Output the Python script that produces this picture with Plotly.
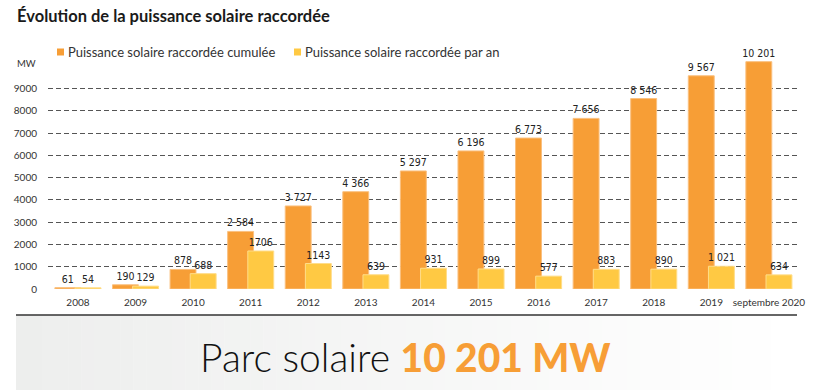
import plotly.graph_objects as go

# ---- data ----
categories = ["2008", "2009", "2010", "2011", "2012", "2013", "2014", "2015",
              "2016", "2017", "2018", "2019", "septembre 2020"]
cumulee = [61, 190, 878, 2584, 3727, 4366, 5297, 6196, 6773, 7656, 8546, 9567, 10201]
par_an = [54, 129, 688, 1706, 1143, 639, 931, 899, 577, 883, 890, 1021, 634]
cumulee_labels = ["61", "190", "878", "2 584", "3 727", "4 366", "5 297", "6 196",
                  "6 773", "7 656", "8 546", "9 567", "10 201"]
par_an_labels = ["54", "129", "688", "1706", "1143", "639", "931", "899", "577",
                 "883", "890", "1 021", "634"]
y_ticks = [0, 1000, 2000, 3000, 4000, 5000, 6000, 7000, 8000, 9000]
series_names = ["Puissance solaire raccordée cumulée", "Puissance solaire raccordée par an"]

ORANGE = "#F79E36"
YELLOW = "#FFC943"
W, H = 825, 390
L, R, T, B = 48, 800, 55, 289


def px(x):
    return (x - L) / (R - L)


def py(y):
    return (B - y) / (B - T)


label_font = dict(family="DejaVu Sans Condensed, Liberation Sans Narrow, sans-serif",
                  size=10.5, color="#222")

fig = go.Figure()
fig.add_trace(go.Bar(
    x=categories, y=cumulee, name=series_names[0], text=cumulee_labels,
    textposition="outside", textfont=label_font, cliponaxis=False, constraintext="none",
    marker=dict(color=ORANGE, line=dict(color="#FAC07F", width=1)),
    offset=-0.40, width=0.45, showlegend=False, hoverinfo="x+y"))
fig.add_trace(go.Bar(
    x=categories, y=par_an, name=series_names[1], text=par_an_labels,
    textposition="outside", textfont=label_font, cliponaxis=False, constraintext="none",
    marker=dict(color=YELLOW, line=dict(color="#FFDD8A", width=1)),
    offset=-0.05, width=0.45, showlegend=False, hoverinfo="x+y"))

shapes = []
annotations = []

# legend (squares + text)
for xs, name, col in [(57, series_names[0], ORANGE), (294, series_names[1], YELLOW)]:
    shapes.append(dict(type="rect", xref="paper", yref="paper",
                       x0=px(xs), x1=px(xs + 7), y0=py(55.5), y1=py(48.5),
                       fillcolor=col, line=dict(width=0)))
    annotations.append(dict(text=name, xref="paper", yref="paper", x=px(xs + 9), y=py(52),
                            xanchor="left", yanchor="middle", showarrow=False,
                            font=dict(family="Lato, sans-serif", size=13, color="#333")))

# MW unit
annotations.append(dict(text="MW", xref="paper", yref="paper", x=px(38), y=py(64),
                        xanchor="right", yanchor="middle", showarrow=False,
                        font=dict(family="Lato, sans-serif", size=9.5, color="#333")))

# bottom band: gradient approximated with strips
n = 60
x_start, x_end = 16, 797
for i in range(n):
    t = i / (n - 1)
    c0 = (0xED, 0xEE, 0xED)
    c = tuple(round(c0[k] + (255 - c0[k]) * t) for k in range(3))
    xa = x_start + (x_end - x_start) * i / n
    xb = x_start + (x_end - x_start) * (i + 1) / n + 0.5
    shapes.append(dict(type="rect", xref="paper", yref="paper", layer="below",
                       x0=px(xa), x1=px(xb), y0=py(390), y1=py(315),
                       fillcolor="rgb(%d,%d,%d)" % c, line=dict(width=0)))
shapes.append(dict(type="line", xref="paper", yref="paper",
                   x0=px(16), x1=px(797), y0=py(315), y1=py(315),
                   line=dict(color="#333", width=1.5)))

annotations.append(dict(
    text="Parc solaire <span style='font-weight:900;color:%s'>10 201 MW</span>" % ORANGE,
    xref="paper", yref="paper", x=px(405), y=py(357), xanchor="center", yanchor="middle",
    showarrow=False, font=dict(family="Lato, sans-serif", size=39, color="#111", weight=300)))

fig.update_layout(
    width=W, height=H,
    margin=dict(l=L, r=W - R, t=T, b=H - B, pad=0),
    paper_bgcolor="white", plot_bgcolor="white",
    barmode="overlay",
    title=dict(text="<b>Évolution de la puissance solaire raccordée</b>",
               x=17 / W, xref="container", xanchor="left",
               y=1 - 16 / H, yref="container", yanchor="middle",
               font=dict(family="Lato, sans-serif", size=16.5, color="#1a1a1a")),
    xaxis=dict(type="category", range=[-0.52, 12.54], showgrid=False, showline=False,
               ticks="", tickfont=dict(family="Lato, sans-serif", size=10, color="#333"),
               ticklabelstandoff=6),
    yaxis=dict(range=[0, 10500], tickvals=y_ticks, showgrid=True, gridcolor="#555",
               gridwidth=1, griddash="5px,3px", zeroline=False, showline=False, ticks="",
               tickfont=dict(family="Lato, sans-serif", size=10, color="#333"),
               ticklabelstandoff=10),
    shapes=shapes, annotations=annotations,
    hovermode="closest",
)

fig.write_html("out.html", config={"displayModeBar": False},
               post_script="document.body.style.margin='0';document.body.style.overflow='hidden';")
